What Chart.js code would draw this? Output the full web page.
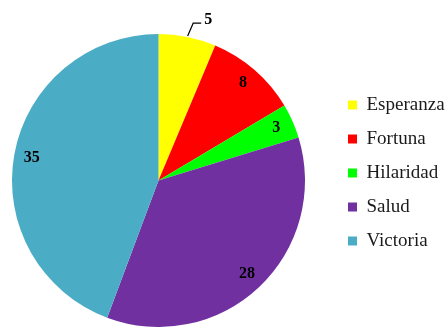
<!DOCTYPE html>
<html>
<head>
<meta charset="utf-8">
<script src="https://cdn.jsdelivr.net/npm/chart.js@4"></script>
<style>
  html, body { margin: 0; padding: 0; background: #ffffff; }
  #wrap { width: 446px; height: 327px; position: relative; }
</style>
</head>
<body>
<div id="wrap"><canvas id="pieChart"></canvas></div>
<script>
const categories = ["Esperanza", "Fortuna", "Hilaridad", "Salud", "Victoria"];
const counts = [5, 8, 3, 28, 35];
const sliceColors = ["#FFFF00", "#FF0000", "#00FF00", "#7030A0", "#4BACC6"];
// which slices get their label outside with a leader line
const outsideLabel = [true, false, false, false, false];

// pie sits a bit left of the plot area in the original, pull it over
const shiftPie = {
  id: "shiftPie",
  afterLayout(chart) {
    const a = chart.chartArea;
    a.left -= 16;
    a.width = a.right - a.left;
  }
};

const sliceLabels = {
  id: "sliceLabels",
  afterDatasetsDraw(chart) {
    const ctx = chart.ctx;
    const meta = chart.getDatasetMeta(0);
    ctx.save();
    ctx.font = 'bold 16px "Liberation Serif", "Times New Roman", serif';
    ctx.fillStyle = "#000";
    ctx.strokeStyle = "#000";
    ctx.lineWidth = 1.2;
    ctx.textBaseline = "middle";
    meta.data.forEach((arc, i) => {
      const p = arc.getProps(["x", "y", "startAngle", "endAngle", "outerRadius"], true);
      const mid = (p.startAngle + p.endAngle) / 2;
      const cos = Math.cos(mid), sin = Math.sin(mid);
      const text = String(counts[i]);
      if (outsideLabel[i]) {
        const x0 = p.x + cos * (p.outerRadius + 1);
        const y0 = p.y + sin * (p.outerRadius + 1);
        const x1 = p.x + cos * (p.outerRadius + 14) + 3;
        const y1 = p.y + sin * (p.outerRadius + 14);
        ctx.beginPath();
        ctx.moveTo(x0, y0);
        ctx.lineTo(x1, y1);
        ctx.lineTo(x1 + 8, y1);
        ctx.stroke();
        ctx.textAlign = "left";
        ctx.fillText(text, x1 + 11, y1 - 3);
      } else {
        const r = p.outerRadius * 0.88;
        ctx.textAlign = "center";
        ctx.fillText(text, p.x + cos * r, p.y + sin * r);
      }
    });
    ctx.restore();
  }
};

const ctx = document.getElementById("pieChart").getContext("2d");
const pieChart = new Chart(ctx, {
  type: "pie",
  data: {
    labels: categories,
    datasets: [
      {
        data: counts,
        backgroundColor: sliceColors,
        borderWidth: 0,
      },
    ],
  },
  options: {
    responsive: true,
    maintainAspectRatio: false,
    animation: false,
    layout: {
      padding: { left: 0, top: 34, right: 0, bottom: 0 },
    },
    plugins: {
      tooltip: { enabled: false },
      legend: {
        display: true,
        position: "right",
        align: "start",
        maxWidth: 113,
        title: {
          display: true,
          text: "",
          font: { size: 10 },
          padding: { top: 0, bottom: 34.5 },
        },
        labels: {
          boxWidth: 9,
          boxHeight: 9,
          padding: 15,
          color: "#1a1a1a",
          font: {
            family: '"Liberation Serif", "Times New Roman", serif',
            size: 19,
          },
        },
      },
    },
  },
  plugins: [shiftPie, sliceLabels],
});
</script>
</body>
</html>
